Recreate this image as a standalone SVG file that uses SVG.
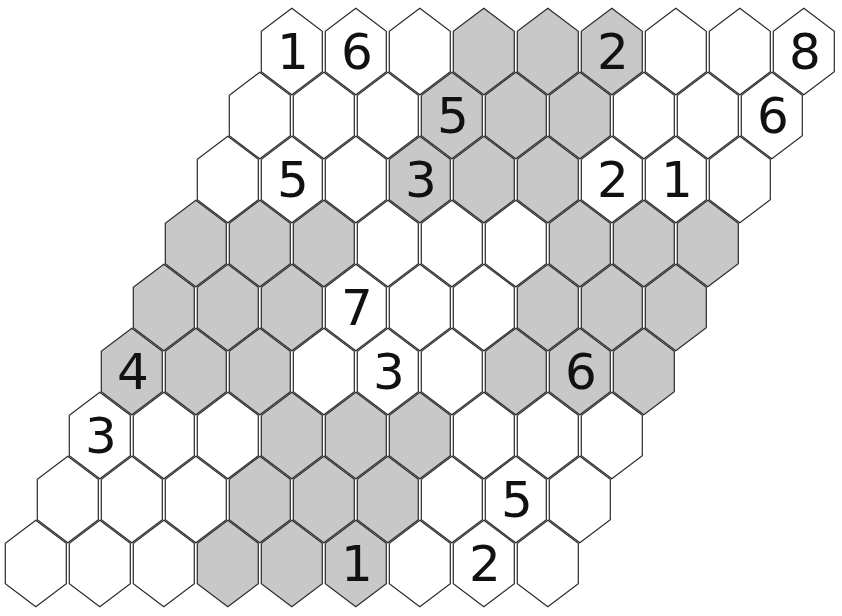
<svg xmlns="http://www.w3.org/2000/svg" xmlns:xlink="http://www.w3.org/1999/xlink" width="842" height="616" viewBox="0 0 842 616">
<style>
.w{fill:#ffffff;stroke:#2a2a2a;stroke-width:1.2}
.g{fill:#c8c8c8;stroke:#2a2a2a;stroke-width:1.2}
text{font-family:"DejaVu Sans","Liberation Sans",sans-serif;font-size:50px;fill:#111111;text-anchor:middle}
</style>
<defs>
<polygon id="hex" points="0,-43.3 30.5,-20.3 30.5,20.3 0,43.3 -30.5,20.3 -30.5,-20.3"/>
</defs>
<rect width="842" height="616" fill="#ffffff"/>
<g id="cells">
<g id="r0c0" transform="translate(291.8,51.5)"><use href="#hex" class="w"/><text x="1" y="17">1</text></g>
<g id="r0c1" transform="translate(355.8,51.5)"><use href="#hex" class="w"/><text x="1" y="17">6</text></g>
<g id="r0c2" transform="translate(419.8,51.5)"><use href="#hex" class="w"/></g>
<g id="r0c3" transform="translate(483.8,51.5)"><use href="#hex" class="g"/></g>
<g id="r0c4" transform="translate(547.8,51.5)"><use href="#hex" class="g"/></g>
<g id="r0c5" transform="translate(611.8,51.5)"><use href="#hex" class="g"/><text x="1" y="17">2</text></g>
<g id="r0c6" transform="translate(675.8,51.5)"><use href="#hex" class="w"/></g>
<g id="r0c7" transform="translate(739.8,51.5)"><use href="#hex" class="w"/></g>
<g id="r0c8" transform="translate(803.8,51.5)"><use href="#hex" class="w"/><text x="1" y="17">8</text></g>

<g id="r1c0" transform="translate(259.8,115.5)"><use href="#hex" class="w"/></g>
<g id="r1c1" transform="translate(323.8,115.5)"><use href="#hex" class="w"/></g>
<g id="r1c2" transform="translate(387.8,115.5)"><use href="#hex" class="w"/></g>
<g id="r1c3" transform="translate(451.8,115.5)"><use href="#hex" class="g"/><text x="1" y="17">5</text></g>
<g id="r1c4" transform="translate(515.8,115.5)"><use href="#hex" class="g"/></g>
<g id="r1c5" transform="translate(579.8,115.5)"><use href="#hex" class="g"/></g>
<g id="r1c6" transform="translate(643.8,115.5)"><use href="#hex" class="w"/></g>
<g id="r1c7" transform="translate(707.8,115.5)"><use href="#hex" class="w"/></g>
<g id="r1c8" transform="translate(771.8,115.5)"><use href="#hex" class="w"/><text x="1" y="17">6</text></g>

<g id="r2c0" transform="translate(227.8,179.5)"><use href="#hex" class="w"/></g>
<g id="r2c1" transform="translate(291.8,179.5)"><use href="#hex" class="w"/><text x="1" y="17">5</text></g>
<g id="r2c2" transform="translate(355.8,179.5)"><use href="#hex" class="w"/></g>
<g id="r2c3" transform="translate(419.8,179.5)"><use href="#hex" class="g"/><text x="1" y="17">3</text></g>
<g id="r2c4" transform="translate(483.8,179.5)"><use href="#hex" class="g"/></g>
<g id="r2c5" transform="translate(547.8,179.5)"><use href="#hex" class="g"/></g>
<g id="r2c6" transform="translate(611.8,179.5)"><use href="#hex" class="w"/><text x="1" y="17">2</text></g>
<g id="r2c7" transform="translate(675.8,179.5)"><use href="#hex" class="w"/><text x="1" y="17">1</text></g>
<g id="r2c8" transform="translate(739.8,179.5)"><use href="#hex" class="w"/></g>

<g id="r3c0" transform="translate(195.8,243.5)"><use href="#hex" class="g"/></g>
<g id="r3c1" transform="translate(259.8,243.5)"><use href="#hex" class="g"/></g>
<g id="r3c2" transform="translate(323.8,243.5)"><use href="#hex" class="g"/></g>
<g id="r3c3" transform="translate(387.8,243.5)"><use href="#hex" class="w"/></g>
<g id="r3c4" transform="translate(451.8,243.5)"><use href="#hex" class="w"/></g>
<g id="r3c5" transform="translate(515.8,243.5)"><use href="#hex" class="w"/></g>
<g id="r3c6" transform="translate(579.8,243.5)"><use href="#hex" class="g"/></g>
<g id="r3c7" transform="translate(643.8,243.5)"><use href="#hex" class="g"/></g>
<g id="r3c8" transform="translate(707.8,243.5)"><use href="#hex" class="g"/></g>

<g id="r4c0" transform="translate(163.8,307.5)"><use href="#hex" class="g"/></g>
<g id="r4c1" transform="translate(227.8,307.5)"><use href="#hex" class="g"/></g>
<g id="r4c2" transform="translate(291.8,307.5)"><use href="#hex" class="g"/></g>
<g id="r4c3" transform="translate(355.8,307.5)"><use href="#hex" class="w"/><text x="1" y="17">7</text></g>
<g id="r4c4" transform="translate(419.8,307.5)"><use href="#hex" class="w"/></g>
<g id="r4c5" transform="translate(483.8,307.5)"><use href="#hex" class="w"/></g>
<g id="r4c6" transform="translate(547.8,307.5)"><use href="#hex" class="g"/></g>
<g id="r4c7" transform="translate(611.8,307.5)"><use href="#hex" class="g"/></g>
<g id="r4c8" transform="translate(675.8,307.5)"><use href="#hex" class="g"/></g>

<g id="r5c0" transform="translate(131.8,371.5)"><use href="#hex" class="g"/><text x="1" y="17">4</text></g>
<g id="r5c1" transform="translate(195.8,371.5)"><use href="#hex" class="g"/></g>
<g id="r5c2" transform="translate(259.8,371.5)"><use href="#hex" class="g"/></g>
<g id="r5c3" transform="translate(323.8,371.5)"><use href="#hex" class="w"/></g>
<g id="r5c4" transform="translate(387.8,371.5)"><use href="#hex" class="w"/><text x="1" y="17">3</text></g>
<g id="r5c5" transform="translate(451.8,371.5)"><use href="#hex" class="w"/></g>
<g id="r5c6" transform="translate(515.8,371.5)"><use href="#hex" class="g"/></g>
<g id="r5c7" transform="translate(579.8,371.5)"><use href="#hex" class="g"/><text x="1" y="17">6</text></g>
<g id="r5c8" transform="translate(643.8,371.5)"><use href="#hex" class="g"/></g>

<g id="r6c0" transform="translate(99.8,435.5)"><use href="#hex" class="w"/><text x="1" y="17">3</text></g>
<g id="r6c1" transform="translate(163.8,435.5)"><use href="#hex" class="w"/></g>
<g id="r6c2" transform="translate(227.8,435.5)"><use href="#hex" class="w"/></g>
<g id="r6c3" transform="translate(291.8,435.5)"><use href="#hex" class="g"/></g>
<g id="r6c4" transform="translate(355.8,435.5)"><use href="#hex" class="g"/></g>
<g id="r6c5" transform="translate(419.8,435.5)"><use href="#hex" class="g"/></g>
<g id="r6c6" transform="translate(483.8,435.5)"><use href="#hex" class="w"/></g>
<g id="r6c7" transform="translate(547.8,435.5)"><use href="#hex" class="w"/></g>
<g id="r6c8" transform="translate(611.8,435.5)"><use href="#hex" class="w"/></g>

<g id="r7c0" transform="translate(67.8,499.5)"><use href="#hex" class="w"/></g>
<g id="r7c1" transform="translate(131.8,499.5)"><use href="#hex" class="w"/></g>
<g id="r7c2" transform="translate(195.8,499.5)"><use href="#hex" class="w"/></g>
<g id="r7c3" transform="translate(259.8,499.5)"><use href="#hex" class="g"/></g>
<g id="r7c4" transform="translate(323.8,499.5)"><use href="#hex" class="g"/></g>
<g id="r7c5" transform="translate(387.8,499.5)"><use href="#hex" class="g"/></g>
<g id="r7c6" transform="translate(451.8,499.5)"><use href="#hex" class="w"/></g>
<g id="r7c7" transform="translate(515.8,499.5)"><use href="#hex" class="w"/><text x="1" y="17">5</text></g>
<g id="r7c8" transform="translate(579.8,499.5)"><use href="#hex" class="w"/></g>

<g id="r8c0" transform="translate(35.8,563.5)"><use href="#hex" class="w"/></g>
<g id="r8c1" transform="translate(99.8,563.5)"><use href="#hex" class="w"/></g>
<g id="r8c2" transform="translate(163.8,563.5)"><use href="#hex" class="w"/></g>
<g id="r8c3" transform="translate(227.8,563.5)"><use href="#hex" class="g"/></g>
<g id="r8c4" transform="translate(291.8,563.5)"><use href="#hex" class="g"/></g>
<g id="r8c5" transform="translate(355.8,563.5)"><use href="#hex" class="g"/><text x="1" y="17">1</text></g>
<g id="r8c6" transform="translate(419.8,563.5)"><use href="#hex" class="w"/></g>
<g id="r8c7" transform="translate(483.8,563.5)"><use href="#hex" class="w"/><text x="1" y="17">2</text></g>
<g id="r8c8" transform="translate(547.8,563.5)"><use href="#hex" class="w"/></g>
</g>
<g id="connectors"></g>
</svg>
